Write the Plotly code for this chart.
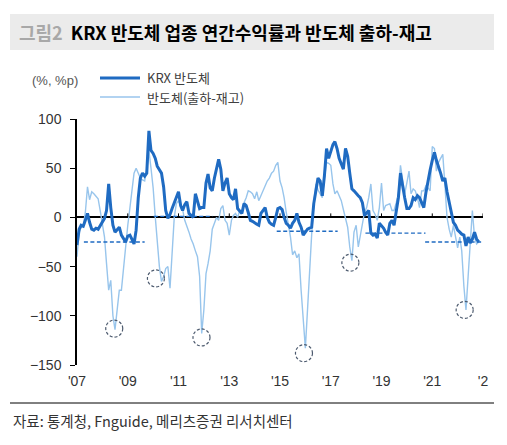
import pandas as pd
import plotly.graph_objects as go

# KRX 반도체 업종 연간수익률 (%), 월별 2007-01 ~ 2022-11
krx_semis = [
    -28, -12, -8, -9, -3, 4, -5, -12, -13, -11, -12, -8,      # 2007
    -5, -1, 7, 34, 10, -8, -15, -12, -10, -18, -22, -25,      # 2008
    -19, -18, -22, -27, -13, 20, 40, 45, 42, 45, 88, 68,      # 2009
    65, 60, 52, 48, 45, 31, 7, -1, 3, 9, 15, 22,              # 2010
    26, 12, 7, 13, 16, 4, 2, 0, 24, 15, 9, 10,                # 2011
    10, 35, 44, 30, 27, 40, 50, 59, 49, 27, 35, 40,           # 2012
    24, 20, 18, 29, 9, 6, 4, 14, 12, 5, -3, -4,               # 2013
    -6, -7, -8, 4, 7, 10, 0, -5, -7, -8, 0, 9,                # 2014
    10, 8, 0, -6, -8, -11, -6, -3, 4, -5, -10, -18,           # 2015
    -15, -12, -11, -10, 14, 28, 40, 37, 22, 42, 70, 60,       # 2016
    68, 74, 77, 70, 60, 55, 49, 70, 62, 45, 29, 27,           # 2017
    25, 22, 20, 15, 2, 5, 7, -16, -18, -17, -21, -6,          # 2018
    -8, -11, -15, -18, -6, -3, -8, 5, 20, 45, 30, 20,         # 2019
    9, 9, 12, 20, 18, 22, 20, 14, 10, 25, 38, 48,             # 2020
    58, 66, 58, 52, 45, 37, 40, 26, 15, 7, -5, -8,            # 2021
    -13, -15, -17, -18, -29, -20, -26, -22, -15, -22, -25,    # 2022
]

# 반도체 출하-재고 증가율 차이 (%p)
ship_minus_inv = [
    -40, -15, -10, -8, 5, 31, 18, 26, 24, 22, 19, 7,          # 2007
    -5, -20, -47, -74, -64, -100, -114, -91, -74, -74, -50, -30,  # 2008
    -8, 10, 25, 45, 50, 45, 40, 38, 37, 49, 68, 50,           # 2009
    30, 0, -25, -50, -65, -60, -52, -50, -72, -35, 0, 14,     # 2010
    17, 12, 8, -3, -8, -15, -22, -27, -34, -40, -60, -118,    # 2011
    -94, -57, -47, -34, -12, -5, 0, -3, 9, 12, -3, -6,        # 2012
    -18, -3, 2, 4, 0, 7, 4, 15, 20, 27, 26, 24,               # 2013
    19, 26, 17, 22, 27, 33, 37, 40, 45, 47, 53, 56,           # 2014
    37, 30, 20, 5, -6, -20, -38, -34, -41, -37, -74, -100,    # 2015
    -133, -94, -51, -17, 14, 34, 28, 24, 20, 40, 56, 55,      # 2016
    53, 34, 24, 27, 22, 17, 8, 0, -10, -30, -44, -15,         # 2017
    -8, -30, -20, -6, 5, 10, 20, 34, 7, 3, -3, 10,            # 2018
    35, 7, 12, 13, 14, 7, 7, 15, 24, 53, 40, 24,              # 2019
    35, 47, 24, 29, 27, 20, 10, 27, 27, 32, 30, 27,           # 2020
    72, 70, 47, 56, 60, 64, 34, 0, -12, -20, -8, -20,         # 2021
    -31, -20, -34, -70, -94, -60, -20, 7, -20, -27, -25,      # 2022
]

months = pd.date_range("2007-01-01", periods=len(krx_semis), freq="MS")

# 하락 구간 평균 수익률 (점선)
avg_start = ["2007-04-10", "2010-01-10", "2014-11-15", "2018-05-15", "2020-09-20"]
avg_end = ["2009-09-01", "2012-05-05", "2017-04-10", "2020-09-25", "2023-02-01"]
avg_level = [-25, 1, -14, -16, -25]

# 출하-재고 저점 (점선 원)
trough_dates = ["2008-06-20", "2010-02-10", "2011-11-28", "2015-12-12", "2017-10-10", "2022-04-12"]
trough_values = [-113, -62, -122, -138, -46, -94]

tick_dates = ["2007-01-01", "2009-01-01", "2011-01-01", "2013-01-01", "2015-01-01",
              "2017-01-01", "2019-01-01", "2021-01-01", "2023-01-01"]
tick_text = ["'07", "'09", "'11", "'13", "'15", "'17", "'19", "'21", "'2"]
y_ticks = [100, 50, 0, -50, -100, -150]

DARK = "#1f6bc2"
LIGHT = "#98c5ec"
KR = "Noto Sans CJK KR"
NUM = "Liberation Sans, Noto Sans CJK KR"

# 페이지 body 여백(8px) 보정
OFF = 8
W, H = 507 - OFF, 445 - OFF
# 플롯 영역 경계 (참조 이미지 픽셀 기준)
L, R, T, B = 77, 483, 119, 365


def px(x):
    return (x - L) / (R - L)


def py(y):
    return (B - y) / (B - T)


fig = go.Figure()

fig.add_trace(go.Scatter(
    x=months, y=ship_minus_inv, mode="lines", name="반도체(출하-재고)",
    line=dict(color=LIGHT, width=1.4),
))
fig.add_trace(go.Scatter(
    x=months, y=krx_semis, mode="lines", name="KRX 반도체",
    line=dict(color=DARK, width=3),
))
for s, e, v in zip(avg_start, avg_end, avg_level):
    fig.add_trace(go.Scatter(
        x=[s, e], y=[v, v], mode="lines", showlegend=False,
        line=dict(color=DARK, width=1.4, dash="4px,2.5px"),
    ))

shapes = []
# 저점 표시 원
for d, v in zip(trough_dates, trough_values):
    shapes.append(dict(
        type="circle", xref="x", yref="y", xsizemode="pixel", ysizemode="pixel",
        xanchor=d, yanchor=v, x0=-8.5, x1=8.5, y0=-8.5, y1=8.5,
        line=dict(color="#4c5a6e", width=1.2, dash="3px,2px"),
    ))
# 0선 위 눈금
for d in tick_dates[1:]:
    shapes.append(dict(
        type="line", xref="x", yref="y", ysizemode="pixel", yanchor=0,
        x0=d, x1=d, y0=0, y1=4, line=dict(color="black", width=1),
    ))
# 제목 배경, 범례 선, 하단 구분선
shapes += [
    dict(type="rect", xref="paper", yref="paper", x0=px(10), x1=px(494), y0=py(50), y1=py(14),
         fillcolor="#ebebeb", line=dict(width=0), layer="below"),
    dict(type="line", xref="paper", yref="paper", x0=px(100), x1=px(140), y0=py(78), y1=py(78),
         line=dict(color=DARK, width=3)),
    dict(type="line", xref="paper", yref="paper", x0=px(100), x1=px(140), y0=py(97), y1=py(97),
         line=dict(color=LIGHT, width=1.5)),
    dict(type="line", xref="paper", yref="paper", x0=px(10), x1=px(494), y0=py(403), y1=py(403),
         line=dict(color="black", width=1)),
]

annotations = [
    dict(x=px(17), y=py(32), xref="paper", yref="paper", xanchor="left", yanchor="middle",
         showarrow=False, font=dict(family=KR, size=18, color="black"),
         text="<span style='color:#a8a8a8'><b>그림2</b></span>  <b>KRX 반도체 업종 연간수익률과 반도체 출하-재고</b>"),
    dict(x=px(30), y=py(80), xref="paper", yref="paper", xanchor="left", yanchor="middle",
         showarrow=False, font=dict(family=NUM, size=13, color="#555555"), text="(%, %p)"),
    dict(x=px(145), y=py(78), xref="paper", yref="paper", xanchor="left", yanchor="middle",
         showarrow=False, font=dict(family=KR, size=13, color="#404040"), text="KRX 반도체"),
    dict(x=px(145), y=py(97), xref="paper", yref="paper", xanchor="left", yanchor="middle",
         showarrow=False, font=dict(family=KR, size=13, color="#404040"), text="반도체(출하-재고)"),
    dict(x=px(11), y=py(420), xref="paper", yref="paper", xanchor="left", yanchor="middle",
         showarrow=False, font=dict(family=KR, size=14.5, color="#333333"),
         text="자료: 통계청, Fnguide, 메리츠증권 리서치센터"),
]

fig.update_layout(
    width=W, height=H,
    margin=dict(l=L - OFF, r=W - (R - OFF), t=T - OFF, b=H - (B - OFF)),
    paper_bgcolor="white", plot_bgcolor="white",
    showlegend=False,
    shapes=shapes, annotations=annotations,
    xaxis=dict(
        type="date", range=["2007-01-01", "2023-01-01"],
        tickmode="array", tickvals=tick_dates, ticktext=tick_text,
        showgrid=False, zeroline=False, showline=False, ticks="",
        tickfont=dict(family=NUM, size=14, color="#333333"),
        ticklabelstandoff=6,
    ),
    yaxis=dict(
        range=[-150, 100], tickmode="array", tickvals=y_ticks,
        showgrid=False, showline=True, linecolor="black", linewidth=1.5,
        ticks="outside", ticklen=5, tickcolor="black",
        zeroline=True, zerolinecolor="black", zerolinewidth=2,
        tickfont=dict(family=NUM, size=14, color="#333333"),
        ticklabelstandoff=6,
    ),
)

fig.write_html("out.html")
